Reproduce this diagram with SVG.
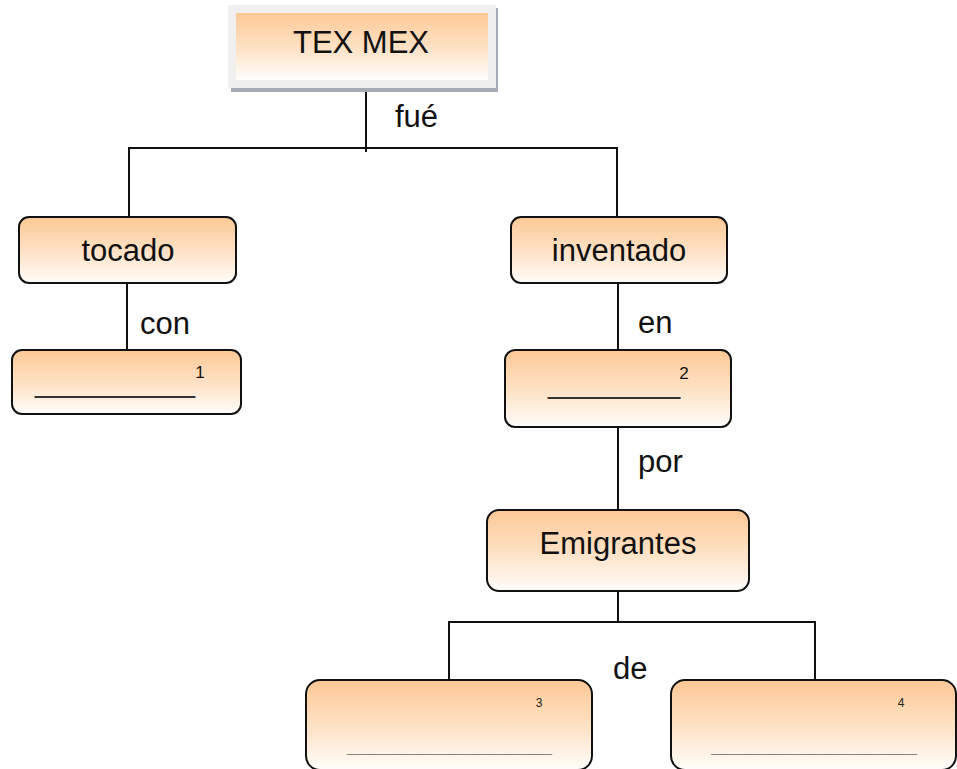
<svg xmlns="http://www.w3.org/2000/svg" width="957" height="769" viewBox="0 0 957 769">
  <defs>
    <linearGradient id="g" x1="0" y1="0" x2="0" y2="1">
      <stop offset="0" stop-color="#fdc895"/>
      <stop offset="0.55" stop-color="#fee3c8"/>
      <stop offset="1" stop-color="#fffdfb"/>
    </linearGradient>
  </defs>
  <style>
    .box { fill: url(#g); stroke: #111; stroke-width: 2; }
    .lbl { font-family: "Liberation Sans", Arial, sans-serif; font-size: 31px; fill: #111; }
    .mid { text-anchor: middle; }
    .sup { font-family: "Liberation Sans", Arial, sans-serif; font-size: 17px; fill: #111; text-anchor: middle; }
    .sup2 { font-family: "Liberation Sans", Arial, sans-serif; font-size: 12px; fill: #222; text-anchor: middle; }
    .us { font-family: "Liberation Sans", Arial, sans-serif; font-size: 31px; fill: #333; }
    .us2 { font-family: "Liberation Sans", Arial, sans-serif; font-size: 12px; fill: #777; }
    .conn { stroke: #111; stroke-width: 2; fill: none; }
  </style>

  <g id="connectors">
    <line class="conn" x1="366" y1="92" x2="366" y2="152"/>
    <polyline class="conn" points="129,217 129,148 617,148 617,217"/>
    <line class="conn" x1="127" y1="283" x2="127" y2="350"/>
    <line class="conn" x1="618" y1="283" x2="618" y2="350"/>
    <line class="conn" x1="618" y1="427" x2="618" y2="510"/>
    <line class="conn" x1="618" y1="591" x2="618" y2="622"/>
    <polyline class="conn" points="449,680 449,622 815,622 815,680"/>
    <text class="lbl" x="395" y="127">fué</text>
    <text class="lbl" x="140" y="334">con</text>
    <text class="lbl" x="638" y="333">en</text>
    <text class="lbl" x="638" y="472">por</text>
    <text class="lbl" x="613" y="679">de</text>
  </g>

  <g id="texmex">
    <rect x="231" y="8" width="267" height="84" fill="#a7abb6"/>
    <rect x="228" y="5" width="268" height="83" fill="#f0f0f0"/>
    <rect x="236" y="13" width="252" height="67" fill="url(#g)"/>
    <text class="lbl mid" x="361" y="53">TEX MEX</text>
  </g>

  <g id="tocado">
    <rect class="box" x="19" y="217" width="217" height="66" rx="10"/>
    <text class="lbl mid" x="128" y="261">tocado</text>
  </g>

  <g id="inventado">
    <rect class="box" x="511" y="217" width="216" height="66" rx="10"/>
    <text class="lbl mid" x="619" y="261">inventado</text>
  </g>

  <g id="blank1">
    <rect class="box" x="12" y="350" width="229" height="64" rx="10"/>
    <text class="us" x="35" y="392" textLength="160" lengthAdjust="spacingAndGlyphs">_________</text>
    <text class="sup" x="200" y="378">1</text>
  </g>

  <g id="blank2">
    <rect class="box" x="505" y="350" width="226" height="77" rx="10"/>
    <text class="us" x="548" y="393" textLength="132" lengthAdjust="spacingAndGlyphs">_______</text>
    <text class="sup" x="684" y="379">2</text>
  </g>

  <g id="emigrantes">
    <rect class="box" x="487" y="510" width="262" height="81" rx="12"/>
    <text class="lbl mid" x="618" y="554">Emigrantes</text>
  </g>

  <g id="blank3">
    <rect class="box" x="306" y="680" width="286" height="90" rx="14"/>
    <text class="us2" x="347" y="752" textLength="205" lengthAdjust="spacingAndGlyphs">_________________________________</text>
    <text class="sup2" x="539" y="707">3</text>
  </g>

  <g id="blank4">
    <rect class="box" x="671" y="680" width="285" height="90" rx="14"/>
    <text class="us2" x="711" y="752" textLength="206" lengthAdjust="spacingAndGlyphs">_________________________________</text>
    <text class="sup2" x="901" y="707">4</text>
  </g>
</svg>
